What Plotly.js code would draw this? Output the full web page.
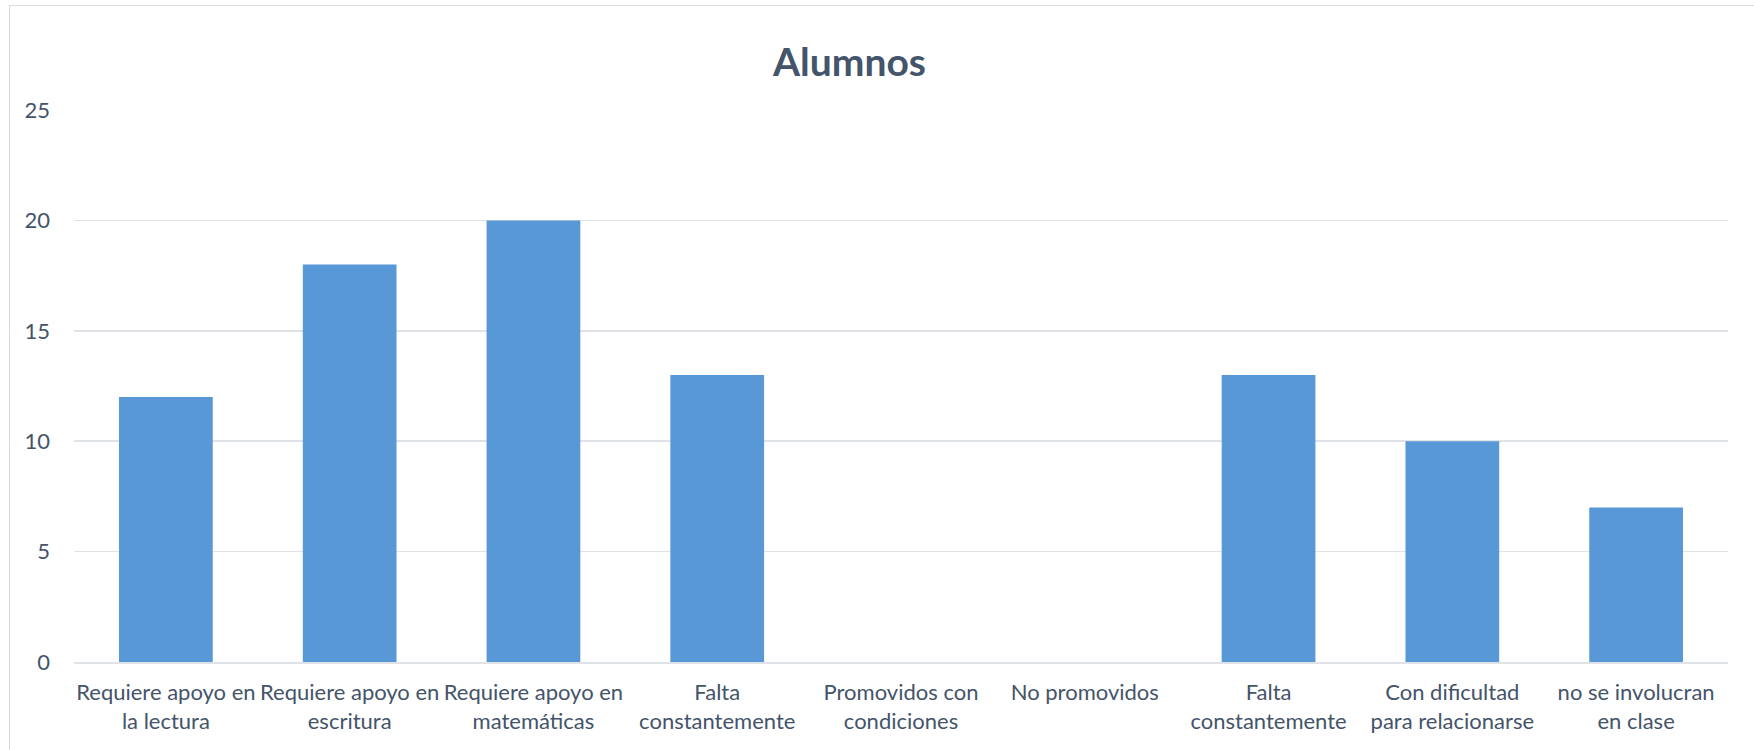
<!DOCTYPE html>
<html>
<head>
<meta charset="utf-8">
<script src="https://cdn.plot.ly/plotly-3.0.1.min.js"></script>
<style>
  html, body { margin: 0; padding: 0; background: #ffffff; }
  #wrap { position: relative; width: 1754px; height: 750px; overflow: hidden; }
  #chart { position: absolute; left: 0; top: 0; width: 1754px; height: 750px; }
  #frame { position: absolute; left: 9px; top: 5px; right: -2px; bottom: -2px;
           border-left: 1.5px solid #d9dde3; border-top: 1.5px solid #d9dde3; pointer-events: none; }
</style>
</head>
<body>
<div id="wrap">
  <div id="chart"></div>
  <div id="frame"></div>
</div>
<script>
// Data
const categories = [
  "Requiere apoyo en<br>la lectura",
  "Requiere apoyo en<br>escritura",
  "Requiere apoyo en<br>matemáticas",
  "Falta<br>constantemente",
  "Promovidos con<br>condiciones",
  "No promovidos",
  "Falta<br>constantemente",
  "Con dificultad<br>para relacionarse",
  "no se involucran<br>en clase"
];
const alumnos = [12, 18, 20, 13, 0, 0, 13, 10, 7];
const yTicks = [0, 5, 10, 15, 20, 25];

const positions = categories.map((_, i) => i);
const textColor = "#44546a";
const gridColor = "#dfe3e8";

const trace = {
  type: "bar",
  x: positions,
  y: alumnos,
  name: "Alumnos",
  marker: { color: "#5898d6", line: { width: 0 } },
  hoverinfo: "y"
};

const layout = {
  width: 1754,
  height: 750,
  margin: { l: 74, r: 26, t: 110, b: 88, pad: 0 },
  paper_bgcolor: "rgba(0,0,0,0)",
  plot_bgcolor: "#ffffff",
  showlegend: false,
  bargap: 0.49,
  font: { family: "Lato, 'Open Sans', sans-serif", size: 22, color: textColor },
  title: {
    text: "<b>Alumnos</b>",
    font: { family: "Lato, 'Open Sans', sans-serif", size: 39, color: textColor },
    xref: "container", x: 0.4843, xanchor: "center",
    yref: "container", y: 0.917, yanchor: "middle"
  },
  xaxis: {
    type: "linear",
    range: [-0.5, categories.length - 0.5],
    tickmode: "array",
    tickvals: positions,
    ticktext: categories,
    showgrid: false,
    zeroline: false,
    showline: true,
    linecolor: gridColor,
    linewidth: 1.5,
    ticks: "",
    ticklabelstandoff: 10,
    tickfont: { size: 22, color: textColor },
    fixedrange: true
  },
  yaxis: {
    range: [0, 25],
    tickmode: "array",
    tickvals: yTicks,
    showgrid: true,
    gridcolor: gridColor,
    gridwidth: 1.5,
    zeroline: false,
    showline: false,
    ticks: "",
    ticklabelstandoff: 23,
    tickfont: { size: 22, color: textColor },
    fixedrange: true
  }
};

Plotly.newPlot("chart", [trace], layout, { displayModeBar: false, staticPlot: true });
</script>
</body>
</html>
